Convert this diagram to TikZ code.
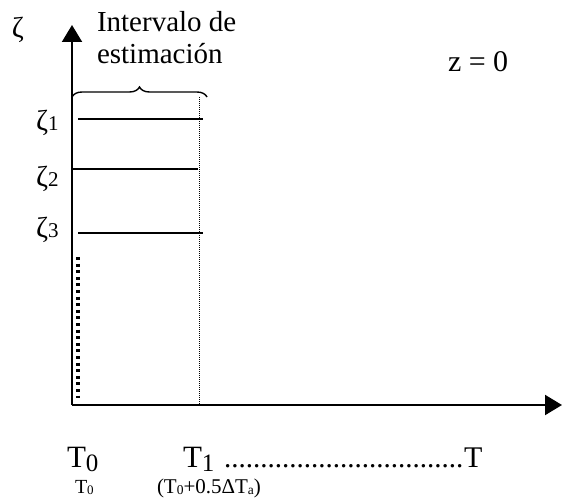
\documentclass[tikz,border=0pt]{standalone}
\usepackage{fontspec}
\setmainfont{Liberation Serif}
\usetikzlibrary{decorations.pathreplacing,arrows.meta}
\newcommand{\fsz}[1]{\fontsize{#1}{#1}\selectfont}
\begin{document}
\begin{tikzpicture}[x=1pt,y=-1pt,
  txt/.style={inner sep=0pt,outer sep=0pt,anchor=base west},
  axisline/.style={line width=2pt,-{Triangle[length=17pt,width=20pt]}},
  levelline/.style={line width=1.3pt},
  thindots/.style={line width=1pt,dash pattern=on 1pt off 1pt},
  thickdots/.style={line width=3.3pt,dash pattern=on 3pt off 3.6pt},
  bracestyle/.style={line width=1.4pt,decorate,decoration={brace,amplitude=10pt}}]
\useasboundingbox (0,0) rectangle (562,500);
% axes
\coordinate (O) at (72,405);
\coordinate (ytop) at (72,25);
\coordinate (xend) at (562,405);
\draw[axisline] (O) -- (ytop);
\draw[axisline] (O) -- (xend);
% level lines
\coordinate (l1a) at (78,119);  \coordinate (l1b) at (203,119);
\coordinate (l2a) at (72,169);  \coordinate (l2b) at (198,169);
\coordinate (l3a) at (78,233);  \coordinate (l3b) at (203,233);
\draw[levelline] (l1a) -- (l1b);
\draw[levelline] (l2a) -- (l2b);
\draw[levelline] (l3a) -- (l3b);
% dotted vertical at T1
\coordinate (d1) at (199,97);
\coordinate (d2) at (199,405);
\draw[thindots] (d1) -- (d2);
% thick dotted segment
\coordinate (t1) at (78,257);
\coordinate (t2) at (78,398);
\draw[thickdots] (t1) -- (t2);
% brace
\coordinate (b1) at (72,97);
\coordinate (b2) at (207,97);
\draw[bracestyle] (b1) -- (b2);
% texts
\node[txt,font=\fsz{29}] (int1) at (97,31.7) {Intervalo de};
\node[txt,font=\fsz{29}] (int2) at (97,63.3) {estimación};
\node[txt,font=\fsz{30}] (z0) at (448,72) {z = 0};
\node[txt,font=\fsz{29}] (zeta) at (12,38) {ζ};
\node[txt,font=\fsz{29}] (z1) at (36,131) {ζ{\fsz{21}1}};
\node[txt,font=\fsz{29}] (z2) at (36,186) {ζ{\fsz{21}2}};
\node[txt,font=\fsz{29}] (z3) at (36,237) {ζ{\fsz{21}3}};
\node[txt,font=\fsz{31}] (T0) at (67,467) {T\raisebox{-4pt}{\fsz{25}0}};
\node[txt,font=\fsz{31}] (T1) at (183,467) {T\raisebox{-4pt}{\fsz{25}1}};
\node[txt,font=\fsz{29}] (dots) at (224,467) {.................................};
\node[txt,font=\fsz{30}] (T) at (464,467) {T};
\node[txt,font=\fsz{20}] (sT0) at (75,493) {T\raisebox{-1pt}{\fsz{13}0}};
\node[txt,font=\fsz{21}] (sT1) at (157,493) {(T\raisebox{-1pt}{\fsz{13.5}0}+0.5ΔT\raisebox{-1pt}{\fsz{13.5}a})};
\end{tikzpicture}
\end{document}
